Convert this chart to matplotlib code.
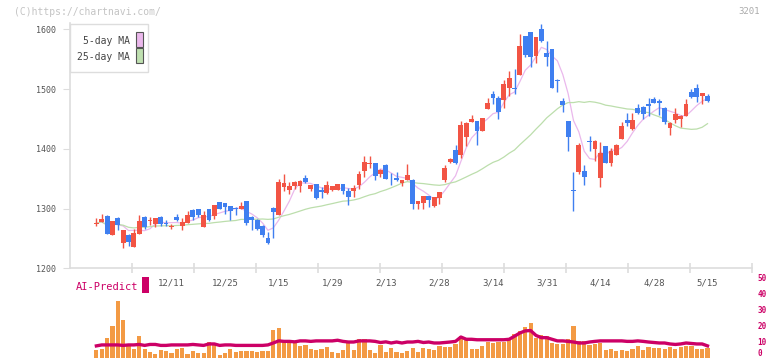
import numpy as np
import pandas as pd
import matplotlib
matplotlib.use("Agg")
import matplotlib.pyplot as plt
from matplotlib.patches import Rectangle

# daily candles, 11/20 .. 5/15 (trading days)
opens = [1275, 1274, 1278, 1288, 1255, 1284, 1243, 1256, 1236, 1257,
         1286, 1279, 1274, 1286, 1276, 1269, 1286, 1271, 1276, 1298,
         1299, 1269, 1299, 1288, 1311, 1309, 1304, 1300, 1299, 1313,
         1286, 1280, 1271, 1251, 1301, 1289, 1336, 1331, 1338, 1338,
         1351, 1333, 1341, 1331, 1326, 1331, 1331, 1341, 1330, 1329,
         1339, 1362, 1374, 1376, 1357, 1373, 1353, 1351, 1342, 1347,
         1348, 1308, 1310, 1321, 1305, 1318, 1348, 1378, 1398, 1390,
         1419, 1445, 1447, 1430, 1467, 1492, 1485, 1482, 1502, 1501,
         1524, 1589, 1596, 1555, 1601, 1560, 1567, 1514, 1480, 1447,
         1330, 1361, 1363, 1412, 1400, 1351, 1405, 1376, 1390, 1417,
         1448, 1433, 1468, 1470, 1475, 1483, 1480, 1468, 1435, 1448,
         1450, 1455, 1495, 1502, 1488, 1488]
highs = [1276, 1284, 1291, 1290, 1279, 1286, 1264, 1257, 1266, 1289,
         1288, 1286, 1285, 1287, 1281, 1274, 1291, 1284, 1296, 1299,
         1300, 1296, 1300, 1306, 1311, 1309, 1305, 1302, 1311, 1313,
         1288, 1282, 1272, 1261, 1302, 1350, 1358, 1344, 1346, 1347,
         1356, 1340, 1341, 1336, 1346, 1338, 1341, 1341, 1335, 1339,
         1363, 1388, 1388, 1377, 1366, 1374, 1360, 1361, 1348, 1375,
         1350, 1313, 1321, 1321, 1319, 1328, 1373, 1384, 1406, 1447,
         1444, 1457, 1447, 1452, 1485, 1497, 1488, 1515, 1530, 1534,
         1592, 1589, 1596, 1587, 1609, 1580, 1567, 1517, 1485, 1447,
         1361, 1410, 1373, 1421, 1415, 1411, 1405, 1402, 1408, 1445,
         1460, 1460, 1475, 1472, 1485, 1487, 1483, 1470, 1444, 1468,
         1456, 1483, 1500, 1509, 1493, 1492]
lows = [1275, 1271, 1278, 1257, 1255, 1264, 1234, 1238, 1236, 1257,
        1266, 1272, 1269, 1271, 1271, 1266, 1279, 1264, 1276, 1281,
        1286, 1269, 1279, 1282, 1299, 1291, 1280, 1290, 1299, 1273,
        1264, 1264, 1253, 1241, 1251, 1289, 1330, 1324, 1332, 1328,
        1343, 1330, 1316, 1318, 1325, 1330, 1331, 1324, 1306, 1320,
        1333, 1352, 1368, 1348, 1352, 1350, 1340, 1346, 1337, 1347,
        1300, 1300, 1300, 1303, 1303, 1308, 1344, 1376, 1374, 1384,
        1405, 1444, 1406, 1430, 1466, 1475, 1450, 1468, 1488, 1492,
        1523, 1553, 1537, 1544, 1578, 1539, 1502, 1495, 1462, 1397,
        1296, 1358, 1339, 1397, 1380, 1336, 1376, 1371, 1389, 1416,
        1438, 1431, 1458, 1450, 1455, 1476, 1457, 1442, 1423, 1443,
        1437, 1455, 1485, 1478, 1475, 1478]
closes = [1276, 1275, 1282, 1257, 1279, 1272, 1264, 1244, 1259, 1279,
          1269, 1280, 1284, 1274, 1274, 1270, 1281, 1278, 1289, 1286,
          1289, 1289, 1280, 1306, 1299, 1303, 1296, 1299, 1304, 1275,
          1280, 1265, 1255, 1243, 1295, 1344, 1343, 1337, 1344, 1346,
          1344, 1339, 1317, 1327, 1340, 1337, 1341, 1330, 1320, 1334,
          1358, 1378, 1375, 1355, 1365, 1350, 1352, 1347, 1347, 1356,
          1308, 1313, 1321, 1315, 1319, 1328, 1368, 1383, 1376, 1440,
          1443, 1450, 1430, 1452, 1477, 1485, 1462, 1509, 1519, 1500,
          1572, 1557, 1553, 1587, 1580, 1554, 1502, 1513, 1473, 1420,
          1329, 1406, 1352, 1411, 1413, 1393, 1376, 1397, 1407, 1438,
          1443, 1448, 1460, 1458, 1472, 1477, 1477, 1445, 1443, 1458,
          1455, 1475, 1487, 1487, 1493, 1480]

# lower panel, from the 2nd candle on
volume = [5.0, 5.6, 12.4, 19.9, 35.4, 23.6, 7.3, 5.6, 13.7, 5.6,
          3.7, 2.5, 5.0, 4.3, 3.1, 5.6, 6.2, 2.5, 4.3, 3.1,
          3.1, 9.9, 9.3, 1.9, 3.1, 5.6, 3.7, 4.3, 4.3, 4.3,
          3.7, 4.3, 4.3, 17.4, 18.6, 9.9, 9.9, 9.3, 7.5, 8.1,
          5.6, 5.0, 5.6, 6.8, 3.7, 3.1, 5.0, 9.9, 5.0, 11.8,
          11.8, 5.0, 3.1, 8.1, 3.7, 6.2, 3.7, 3.1, 4.3, 6.2,
          3.7, 6.2, 5.6, 5.0, 7.5, 6.8, 6.8, 8.7, 13.7, 11.2,
          5.6, 5.6, 7.5, 9.9, 9.3, 9.9, 9.9, 11.2, 14.9, 16.8,
          19.3, 21.7, 12.4, 14.3, 13.7, 9.3, 8.7, 8.7, 11.8, 19.9,
          10.6, 10.6, 8.1, 8.7, 9.3, 5.0, 5.6, 4.3, 5.0, 4.3,
          5.6, 7.5, 5.0, 6.8, 6.2, 6.2, 5.6, 6.8, 5.6, 6.8,
          7.5, 7.5, 5.6, 5.6, 6.2]
ai_predict = [7.5, 8.1, 8.1, 8.1, 8.1, 7.8, 8.1, 8.1, 8.4, 7.8,
              8.4, 8.4, 7.8, 7.8, 8.1, 8.1, 8.1, 8.1, 8.4, 8.1,
              7.8, 8.7, 8.7, 7.8, 8.1, 8.1, 7.8, 7.8, 7.8, 7.8,
              7.8, 7.8, 8.1, 9.3, 10.6, 10.3, 10.3, 10.0, 10.6, 10.6,
              10.3, 10.6, 10.6, 10.6, 10.6, 11.0, 10.3, 9.9, 9.9, 10.6,
              10.6, 10.6, 10.3, 9.6, 10.0, 9.3, 9.9, 9.3, 9.9, 9.9,
              10.3, 9.6, 9.9, 9.3, 9.3, 9.6, 9.9, 10.3, 13.0, 11.6,
              11.6, 11.3, 11.3, 11.3, 11.3, 11.3, 11.3, 11.6, 13.5, 15.5,
              16.8, 17.0, 14.0, 12.6, 12.6, 11.6, 10.6, 10.6, 10.3, 9.9,
              9.3, 9.3, 9.9, 10.3, 10.6, 10.6, 10.6, 10.6, 10.6, 10.3,
              10.3, 10.6, 10.3, 9.9, 9.6, 9.3, 9.3, 8.7, 8.4, 8.7,
              9.3, 9.0, 8.7, 8.7, 7.5]

date_labels = ['12/11', '12/25', '1/15', '1/29', '2/13', '2/28',
               '3/14', '3/31', '4/14', '4/28', '5/15']
date_pos = [15, 25, 35, 45, 55, 65, 75, 85, 95, 105, 115]

RED = '#f25444'
BLUE = '#3f7ff0'
AXC = '#dddddd'
TXT = '#555555'
MAG = '#cc0066'
FONT = 'DejaVu Sans Mono'

plt.rcParams['font.family'] = FONT

W, H = 772, 361
fig = plt.figure(figsize=(W / 100, H / 100), dpi=100)

def px(x0, y0, x1, y1):
    return [x0 / W, 1 - y1 / H, (x1 - x0) / W, (y1 - y0) / H]

xmin, xmax = -3.92, 123.3

ax = fig.add_axes(px(70, 23, 752, 268.3))
ax2 = fig.add_axes(px(70, 277.3, 752, 358))

o = np.array(opens, float)
c = np.array(closes, float)
hi = np.array(highs, float)
lo = np.array(lows, float)
x = np.arange(len(o))
up = c >= o
cols = np.where(up, RED, BLUE)

ax.vlines(x, lo, hi, colors=cols, lw=1.0, zorder=3)
body = np.maximum(np.abs(c - o), 1.6)
ax.bar(x, body, bottom=np.minimum(o, c), width=0.9, color=cols,
       linewidth=0, zorder=4)

cs = pd.Series(c)
ma5 = cs.rolling(5, min_periods=1).mean()
ma25 = cs.rolling(25, min_periods=1).mean()
ax.plot(x[1:], ma5[1:], color='#eab8ec', lw=0.9, zorder=2)
ax.plot(x[1:], ma25[1:], color='#bcdeac', lw=0.9, zorder=2)

ax.set_xlim(xmin, xmax)
ax.set_ylim(1200, 1610.5)
for s in ['top', 'right']:
    ax.spines[s].set_visible(False)
for s in ['left', 'bottom']:
    ax.spines[s].set_color(AXC)
    ax.spines[s].set_linewidth(1.2)
ax.set_yticks([1200, 1300, 1400, 1500, 1600])
ax.tick_params(axis='y', length=5, color=AXC, labelsize=6, labelcolor=TXT, pad=5)
ax.set_xticks(date_pos)
ax.set_xticklabels(date_labels)
ax.tick_params(axis='x', which='major', length=0, labelsize=6.5,
               labelcolor=TXT, pad=7.5)
step = (xmax - xmin) / 11
ax.set_xticks([xmin + k * step for k in range(1, 12)], minor=True)
ax.tick_params(axis='x', which='minor', direction='inout', length=7,
               color=AXC, width=1.2)
ax.patch.set_alpha(0)

# lower panel
xv = x[1:]
ax2.bar(xv, volume, width=0.78, color='#f39a44', linewidth=0, zorder=2)
ax2.plot(xv, ai_predict, color=MAG, lw=2.4, zorder=3)
ax2.set_xlim(xmin, xmax)
ax2.set_ylim(0, 50)
for s in ax2.spines.values():
    s.set_visible(False)
ax2.set_xticks([])
ax2.yaxis.tick_right()
ax2.set_yticks([0, 10, 20, 30, 40, 50])
ax2.tick_params(axis='y', length=0, labelsize=5.5, labelcolor=MAG, pad=4)
for t in ax2.get_yticklabels():
    t.set_fontweight('bold')
    if t.get_text() == '0':
        t.set_va('bottom')
ax2.patch.set_alpha(0)

# texts and legend
fig.text(14 / W, 1 - 12 / H, '(C)https://chartnavi.com/', fontsize=7,
         color='#c4c4c4', va='center', ha='left')
fig.text(760 / W, 1 - 12 / H, '3201', fontsize=6.5, color='#aaaaaa',
         va='center', ha='right')

fig.patches.append(Rectangle((70 / W, 1 - 72 / H), 78 / W, 48 / H,
                             transform=fig.transFigure, facecolor='white',
                             edgecolor=AXC, lw=1.0, zorder=5))
fig.text(130 / W, 1 - 41.5 / H, '5-day MA', fontsize=7, color='#444444',
         ha='right', va='center', zorder=6)
fig.text(130 / W, 1 - 56.5 / H, '25-day MA', fontsize=7, color='#444444',
         ha='right', va='center', zorder=6)
fig.patches.append(Rectangle((136 / W, 1 - 47 / H), 7 / W, 15 / H,
                             transform=fig.transFigure, facecolor='#ebb8ec',
                             edgecolor='#555555', lw=0.8, zorder=6))
fig.patches.append(Rectangle((136 / W, 1 - 63 / H), 7 / W, 15 / H,
                             transform=fig.transFigure, facecolor='#bfe0b0',
                             edgecolor='#555555', lw=0.8, zorder=6))

fig.text(76 / W, 1 - 286.5 / H, 'AI-Predict', fontsize=7.5, color=MAG,
         ha='left', va='center')
fig.patches.append(Rectangle((142 / W, 1 - 293 / H), 7 / W, 16 / H,
                             transform=fig.transFigure, facecolor=MAG,
                             edgecolor='none'))

fig.savefig('out.png', dpi=100)
